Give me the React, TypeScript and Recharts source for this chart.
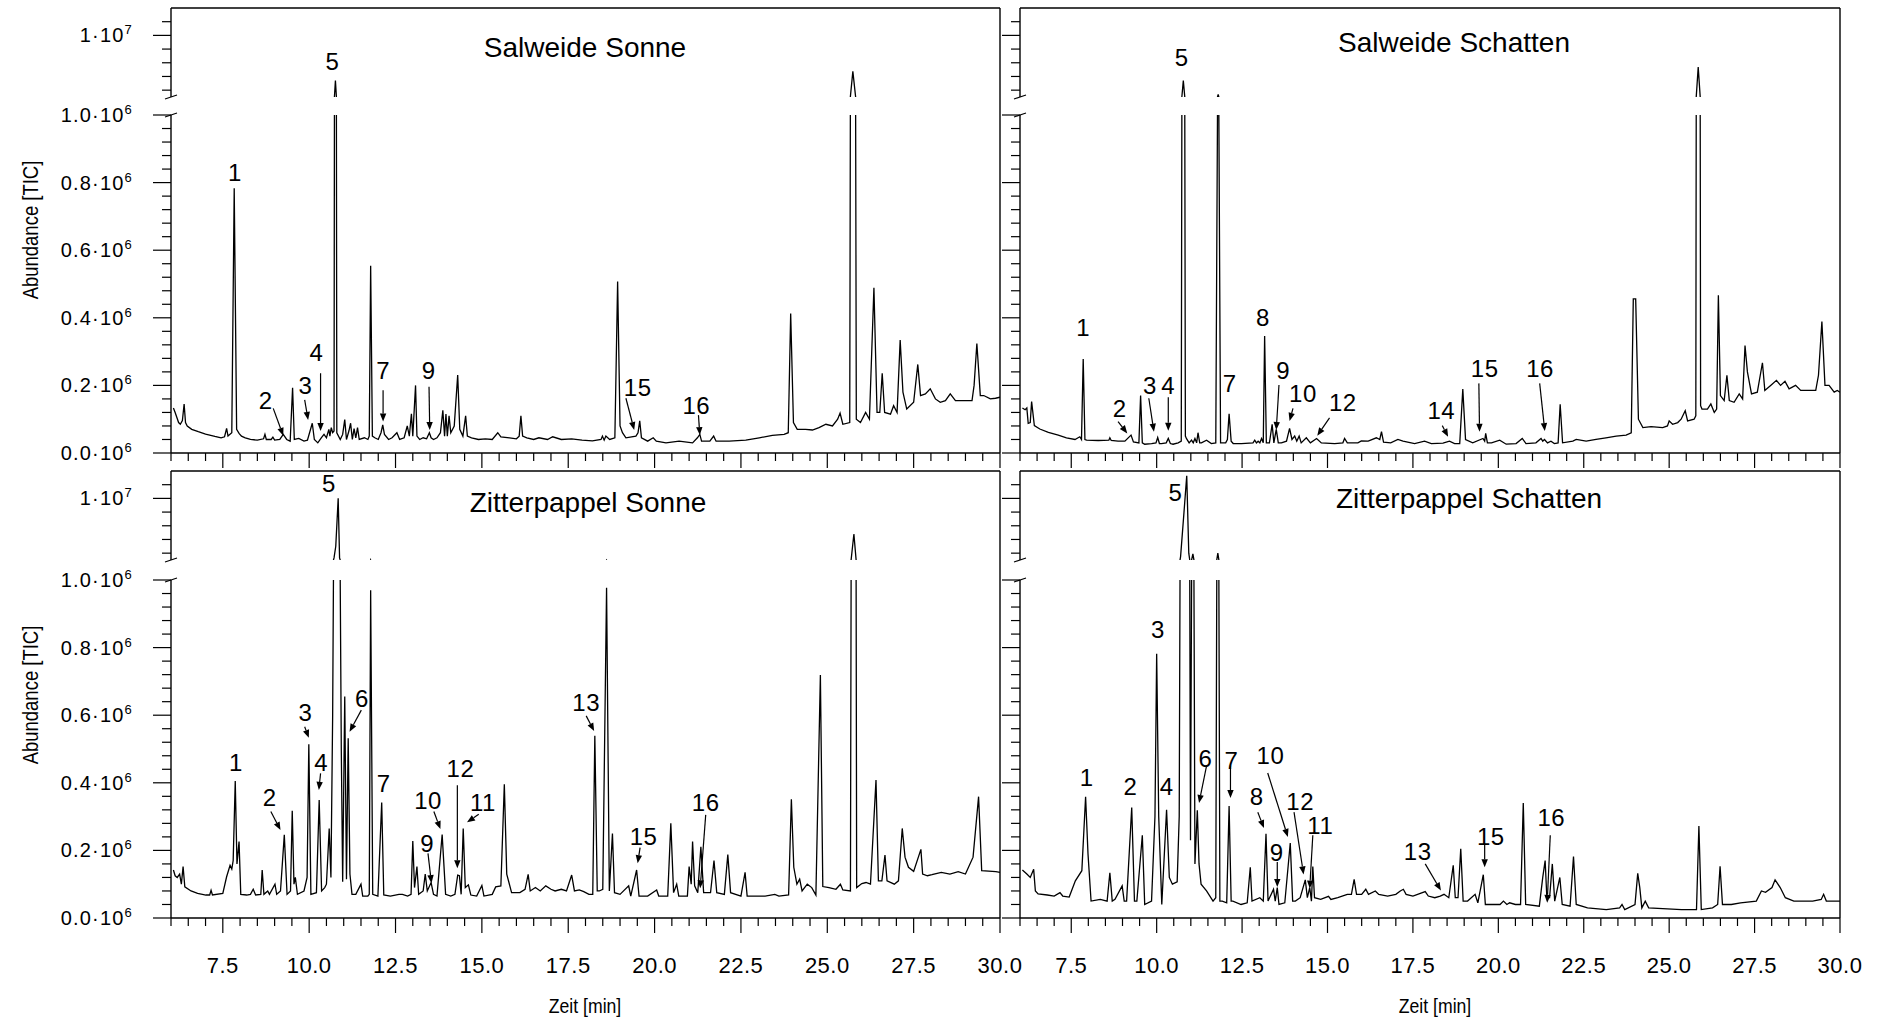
import React from 'react';
import { LineChart, Line, XAxis, YAxis, ReferenceLine, ReferenceDot } from 'recharts';

type Pt = [number, number];
type Note = { n: string; t: number; v: number; arrow?: [number, number, number, number] };

// abundance in units of 10^6, time in min
const salweideSonne: Pt[] = [
  [6.07, 0.133], [6.12, 0.12], [6.17, 0.105], [6.22, 0.09], [6.27, 0.085], [6.33, 0.096], [6.38, 0.145], [6.42, 0.09],
  [6.47, 0.08], [6.6, 0.07], [6.79, 0.063], [7.0, 0.056], [7.27, 0.049], [7.45, 0.045], [7.55, 0.048], [7.61, 0.073],
  [7.65, 0.05], [7.76, 0.06], [7.83, 0.783], [7.9, 0.07], [7.97, 0.058], [8.04, 0.05], [8.15, 0.045], [8.3, 0.04],
  [8.5, 0.038], [8.68, 0.042], [8.72, 0.055], [8.76, 0.04], [8.9, 0.04], [8.95, 0.047], [9.0, 0.038], [9.15, 0.04],
  [9.25, 0.055], [9.35, 0.04], [9.45, 0.035], [9.52, 0.193], [9.57, 0.04], [9.7, 0.043], [9.85, 0.035], [9.95, 0.038],
  [10.09, 0.088], [10.15, 0.04], [10.25, 0.03], [10.35, 0.045], [10.43, 0.055], [10.5, 0.045], [10.57, 0.07], [10.6, 0.05],
  [10.64, 0.075], [10.68, 0.06], [10.72, 0.065], [10.76, 3.4], [10.8, 0.06], [10.9, 0.04], [10.97, 0.055], [11.03, 0.099],
  [11.08, 0.04], [11.15, 0.065], [11.2, 0.088], [11.25, 0.04], [11.3, 0.072], [11.35, 0.045], [11.4, 0.075], [11.45, 0.04],
  [11.6, 0.045], [11.7, 0.04], [11.74, 0.05], [11.78, 0.554], [11.83, 0.05], [11.9, 0.045], [12.0, 0.04], [12.08, 0.06],
  [12.13, 0.083], [12.18, 0.055], [12.3, 0.04], [12.4, 0.045], [12.54, 0.06], [12.62, 0.04], [12.75, 0.045], [12.84, 0.08],
  [12.9, 0.05], [12.96, 0.116], [13.0, 0.05], [13.08, 0.2], [13.12, 0.05], [13.2, 0.04], [13.3, 0.045], [13.4, 0.042],
  [13.48, 0.06], [13.53, 0.045], [13.6, 0.04], [13.7, 0.045], [13.8, 0.06], [13.87, 0.126], [13.92, 0.05], [13.96, 0.115],
  [14.0, 0.05], [14.05, 0.11], [14.1, 0.06], [14.2, 0.08], [14.3, 0.231], [14.36, 0.07], [14.45, 0.05], [14.53, 0.11],
  [14.58, 0.05], [14.7, 0.045], [14.9, 0.04], [15.1, 0.042], [15.3, 0.04], [15.46, 0.06], [15.55, 0.048], [15.8, 0.045],
  [16.0, 0.042], [16.08, 0.05], [16.13, 0.11], [16.18, 0.05], [16.3, 0.045], [16.5, 0.04], [16.65, 0.045], [16.9, 0.04],
  [17.05, 0.048], [17.3, 0.04], [17.6, 0.042], [17.9, 0.038], [18.2, 0.036], [18.45, 0.04], [18.49, 0.05], [18.54, 0.038],
  [18.59, 0.05], [18.7, 0.04], [18.85, 0.045], [18.93, 0.507], [19.0, 0.08], [19.07, 0.06], [19.17, 0.045], [19.46, 0.05],
  [19.52, 0.06], [19.57, 0.095], [19.62, 0.045], [19.8, 0.035], [19.96, 0.045], [20.05, 0.035], [20.33, 0.03], [20.71, 0.035],
  [21.1, 0.03], [21.24, 0.045], [21.31, 0.055], [21.36, 0.035], [21.6, 0.035], [21.71, 0.05], [21.78, 0.035], [22.16, 0.035],
  [22.64, 0.038], [23.03, 0.045], [23.41, 0.052], [23.75, 0.055], [23.87, 0.06], [23.94, 0.413], [24.02, 0.09], [24.13, 0.07],
  [24.37, 0.07], [24.57, 0.068], [24.76, 0.075], [24.96, 0.085], [25.15, 0.08], [25.3, 0.1], [25.37, 0.118], [25.45, 0.085],
  [25.65, 0.09], [25.74, 4.74], [25.84, 0.1], [25.96, 0.09], [26.11, 0.12], [26.22, 0.1], [26.35, 0.489], [26.44, 0.12],
  [26.52, 0.12], [26.59, 0.236], [26.66, 0.12], [26.83, 0.115], [26.92, 0.14], [27.02, 0.12], [27.11, 0.334], [27.19, 0.18],
  [27.3, 0.13], [27.5, 0.15], [27.62, 0.262], [27.7, 0.17], [27.84, 0.175], [27.98, 0.19], [28.13, 0.16], [28.27, 0.15],
  [28.42, 0.155], [28.56, 0.175], [28.71, 0.155], [29.0, 0.155], [29.19, 0.155], [29.25, 0.2], [29.33, 0.324], [29.43, 0.17],
  [29.53, 0.17], [29.72, 0.16], [29.87, 0.162], [30.0, 0.165],
];

const salweideSchatten: Pt[] = [
  [6.07, 0.133], [6.15, 0.128], [6.2, 0.133], [6.24, 0.088], [6.3, 0.09], [6.34, 0.152], [6.42, 0.081], [6.58, 0.071],
  [6.83, 0.061], [7.12, 0.053], [7.36, 0.045], [7.61, 0.04], [7.75, 0.048], [7.8, 0.04], [7.85, 0.278], [7.9, 0.04],
  [7.95, 0.038], [8.29, 0.037], [8.6, 0.038], [8.63, 0.045], [8.67, 0.037], [8.87, 0.035], [9.07, 0.035], [9.25, 0.053],
  [9.32, 0.033], [9.48, 0.03], [9.53, 0.17], [9.58, 0.03], [9.65, 0.026], [9.85, 0.028], [9.98, 0.03], [10.03, 0.046],
  [10.08, 0.028], [10.14, 0.028], [10.28, 0.03], [10.34, 0.043], [10.4, 0.028], [10.48, 0.026], [10.63, 0.03], [10.72, 0.035],
  [10.78, 3.4], [10.84, 0.05], [10.87, 0.043], [10.95, 0.03], [11.02, 0.038], [11.07, 0.03], [11.12, 0.043], [11.17, 0.03],
  [11.21, 0.06], [11.26, 0.03], [11.31, 0.03], [11.46, 0.038], [11.6, 0.028], [11.73, 0.03], [11.8, 1.39], [11.87, 0.03],
  [12.02, 0.03], [12.07, 0.04], [12.12, 0.116], [12.18, 0.035], [12.24, 0.028], [12.48, 0.028], [12.82, 0.03], [12.87, 0.038],
  [12.92, 0.03], [12.97, 0.035], [13.02, 0.03], [13.07, 0.043], [13.12, 0.03], [13.16, 0.346], [13.21, 0.03], [13.3, 0.03],
  [13.38, 0.085], [13.43, 0.03], [13.5, 0.07], [13.56, 0.03], [13.65, 0.03], [13.8, 0.035], [13.89, 0.073], [13.96, 0.04],
  [14.04, 0.05], [14.1, 0.035], [14.17, 0.05], [14.23, 0.03], [14.38, 0.045], [14.5, 0.03], [14.68, 0.043], [14.82, 0.03],
  [15.21, 0.028], [15.45, 0.03], [15.5, 0.043], [15.58, 0.03], [15.89, 0.03], [15.99, 0.036], [16.19, 0.035], [16.43, 0.045],
  [16.53, 0.04], [16.58, 0.063], [16.64, 0.032], [16.85, 0.03], [17.06, 0.04], [17.21, 0.035], [17.55, 0.028], [17.84, 0.035],
  [18.04, 0.028], [18.38, 0.029], [18.57, 0.035], [18.72, 0.028], [18.87, 0.028], [18.96, 0.189], [19.04, 0.04], [19.25, 0.03],
  [19.55, 0.043], [19.6, 0.035], [19.63, 0.058], [19.68, 0.03], [19.8, 0.03], [20.04, 0.038], [20.23, 0.026], [20.52, 0.028],
  [20.7, 0.043], [20.81, 0.028], [21.1, 0.03], [21.25, 0.043], [21.3, 0.035], [21.35, 0.04], [21.44, 0.03], [21.54, 0.035],
  [21.64, 0.028], [21.75, 0.03], [21.81, 0.144], [21.88, 0.03], [22.18, 0.035], [22.28, 0.04], [22.57, 0.035], [22.86, 0.04],
  [23.15, 0.045], [23.45, 0.05], [23.74, 0.053], [23.89, 0.06], [23.95, 0.456], [24.02, 0.456], [24.1, 0.1], [24.23, 0.075],
  [24.47, 0.078], [24.81, 0.075], [24.95, 0.08], [25.0, 0.095], [25.1, 0.085], [25.25, 0.09], [25.35, 0.1], [25.47, 0.125],
  [25.54, 0.095], [25.73, 0.1], [25.78, 0.11], [25.85, 5.37], [25.92, 0.14], [25.96, 0.13], [26.12, 0.13], [26.22, 0.145],
  [26.32, 0.12], [26.39, 0.13], [26.44, 0.467], [26.5, 0.17], [26.61, 0.155], [26.69, 0.23], [26.76, 0.155], [26.9, 0.15],
  [27.05, 0.175], [27.15, 0.16], [27.22, 0.318], [27.29, 0.24], [27.41, 0.175], [27.58, 0.18], [27.73, 0.267], [27.8, 0.185],
  [27.97, 0.2], [28.14, 0.215], [28.26, 0.2], [28.39, 0.212], [28.51, 0.19], [28.7, 0.2], [28.85, 0.185], [29.09, 0.185],
  [29.29, 0.185], [29.37, 0.23], [29.47, 0.389], [29.56, 0.2], [29.68, 0.2], [29.83, 0.18], [29.92, 0.185], [30.0, 0.18],
];

const zitterpappelSonne: Pt[] = [
  [6.07, 0.142], [6.12, 0.125], [6.18, 0.12], [6.25, 0.13], [6.3, 0.1], [6.35, 0.152], [6.4, 0.092], [6.58, 0.08],
  [6.77, 0.073], [7.01, 0.068], [7.12, 0.068], [7.16, 0.082], [7.2, 0.068], [7.5, 0.073], [7.61, 0.122], [7.71, 0.156],
  [7.76, 0.145], [7.8, 0.17], [7.86, 0.405], [7.91, 0.16], [7.97, 0.226], [8.02, 0.07], [8.19, 0.068], [8.3, 0.07],
  [8.38, 0.085], [8.45, 0.068], [8.6, 0.07], [8.64, 0.142], [8.69, 0.07], [8.8, 0.08], [8.85, 0.07], [9.01, 0.1],
  [9.06, 0.07], [9.17, 0.08], [9.28, 0.246], [9.36, 0.07], [9.46, 0.08], [9.51, 0.317], [9.56, 0.1], [9.6, 0.12],
  [9.66, 0.07], [9.85, 0.08], [9.94, 0.12], [9.99, 0.514], [10.05, 0.07], [10.21, 0.075], [10.29, 0.349], [10.36, 0.08],
  [10.45, 0.09], [10.5, 0.1], [10.58, 0.265], [10.63, 0.12], [10.68, 0.6], [10.72, 1.3], [10.77, 3.0], [10.84, 10.0],
  [10.88, 1.3], [10.93, 0.5], [10.97, 0.107], [11.03, 0.655], [11.08, 0.115], [11.13, 0.532], [11.18, 0.13], [11.24, 0.07],
  [11.35, 0.07], [11.5, 0.1], [11.55, 0.065], [11.7, 0.065], [11.74, 0.07], [11.78, 0.97], [11.84, 0.07], [11.99, 0.065],
  [12.1, 0.342], [12.16, 0.068], [12.35, 0.065], [12.6, 0.07], [12.7, 0.07], [12.85, 0.065], [12.95, 0.07], [13.0, 0.228],
  [13.05, 0.09], [13.12, 0.152], [13.17, 0.07], [13.3, 0.08], [13.36, 0.13], [13.42, 0.08], [13.53, 0.105], [13.6, 0.07],
  [13.7, 0.065], [13.85, 0.247], [13.95, 0.07], [14.1, 0.065], [14.22, 0.07], [14.3, 0.127], [14.35, 0.125], [14.4, 0.07],
  [14.46, 0.265], [14.52, 0.09], [14.61, 0.098], [14.68, 0.068], [14.85, 0.065], [15.0, 0.096], [15.06, 0.065], [15.3, 0.07],
  [15.4, 0.092], [15.55, 0.095], [15.65, 0.396], [15.72, 0.13], [15.86, 0.075], [16.1, 0.075], [16.25, 0.085], [16.34, 0.129],
  [16.4, 0.08], [16.55, 0.09], [16.69, 0.08], [16.85, 0.095], [17.0, 0.085], [17.12, 0.08], [17.3, 0.085], [17.45, 0.08],
  [17.6, 0.127], [17.68, 0.08], [17.82, 0.083], [17.95, 0.078], [18.1, 0.07], [18.21, 0.07], [18.27, 0.539], [18.34, 0.08],
  [18.4, 0.08], [18.5, 0.085], [18.61, 0.977], [18.69, 0.08], [18.78, 0.25], [18.84, 0.075], [19.0, 0.07], [19.25, 0.095],
  [19.31, 0.065], [19.48, 0.142], [19.55, 0.065], [19.8, 0.065], [20.06, 0.083], [20.12, 0.065], [20.38, 0.065], [20.47, 0.28],
  [20.55, 0.075], [20.64, 0.1], [20.7, 0.065], [20.95, 0.065], [21.0, 0.152], [21.06, 0.1], [21.1, 0.226], [21.16, 0.095],
  [21.25, 0.075], [21.34, 0.211], [21.42, 0.075], [21.62, 0.075], [21.72, 0.17], [21.8, 0.075], [22.02, 0.07], [22.12, 0.188],
  [22.2, 0.075], [22.5, 0.065], [22.62, 0.135], [22.68, 0.065], [23.2, 0.065], [23.48, 0.07], [23.6, 0.065], [23.88, 0.068],
  [23.96, 0.351], [24.03, 0.15], [24.12, 0.1], [24.2, 0.115], [24.27, 0.08], [24.42, 0.1], [24.55, 0.09], [24.67, 0.068],
  [24.8, 0.719], [24.87, 0.093], [25.05, 0.09], [25.25, 0.085], [25.38, 0.1], [25.45, 0.083], [25.67, 0.08], [25.77, 4.8],
  [25.85, 0.09], [26.0, 0.102], [26.12, 0.105], [26.25, 0.1], [26.41, 0.408], [26.48, 0.11], [26.58, 0.11], [26.67, 0.186],
  [26.73, 0.11], [26.94, 0.1], [27.06, 0.11], [27.17, 0.265], [27.25, 0.18], [27.35, 0.15], [27.5, 0.138], [27.71, 0.203],
  [27.76, 0.13], [27.9, 0.125], [28.03, 0.128], [28.3, 0.135], [28.55, 0.13], [28.79, 0.137], [29.0, 0.13], [29.22, 0.18],
  [29.38, 0.359], [29.47, 0.14], [29.88, 0.137], [30.0, 0.135],
];

const zitterpappelSchatten: Pt[] = [
  [6.07, 0.142], [6.2, 0.13], [6.3, 0.12], [6.4, 0.144], [6.45, 0.08], [6.53, 0.071], [6.8, 0.068], [7.0, 0.065],
  [7.17, 0.075], [7.25, 0.065], [7.44, 0.062], [7.62, 0.11], [7.81, 0.14], [7.92, 0.359], [7.99, 0.19], [8.08, 0.05],
  [8.35, 0.055], [8.55, 0.05], [8.63, 0.134], [8.7, 0.05], [8.78, 0.055], [8.99, 0.095], [9.05, 0.05], [9.12, 0.05],
  [9.27, 0.327], [9.35, 0.05], [9.42, 0.05], [9.58, 0.245], [9.65, 0.04], [9.85, 0.05], [9.95, 0.3], [10.0, 0.782],
  [10.06, 0.3], [10.15, 0.04], [10.29, 0.32], [10.37, 0.12], [10.46, 0.1], [10.6, 0.107], [10.66, 0.3], [10.7, 1.5],
  [10.8, 8.0], [10.88, 13.3], [10.94, 2.0], [10.99, 0.23], [11.06, 1.9], [11.12, 0.16], [11.19, 0.319], [11.24, 0.16],
  [11.3, 0.1], [11.46, 0.08], [11.65, 0.05], [11.73, 0.06], [11.79, 2.0], [11.85, 0.05], [11.92, 0.05], [12.05, 0.045],
  [12.12, 0.331], [12.18, 0.05], [12.23, 0.05], [12.47, 0.04], [12.65, 0.045], [12.74, 0.15], [12.79, 0.05], [13.02, 0.06],
  [13.12, 0.05], [13.2, 0.249], [13.26, 0.05], [13.42, 0.085], [13.47, 0.05], [13.53, 0.09], [13.58, 0.04], [13.75, 0.045],
  [13.91, 0.222], [13.98, 0.05], [14.06, 0.05], [14.2, 0.06], [14.35, 0.113], [14.41, 0.06], [14.48, 0.09], [14.53, 0.05],
  [14.57, 0.152], [14.62, 0.06], [14.8, 0.055], [15.03, 0.064], [15.1, 0.055], [15.3, 0.06], [15.58, 0.07], [15.7, 0.07],
  [15.78, 0.114], [15.85, 0.07], [16.0, 0.07], [16.12, 0.085], [16.2, 0.07], [16.4, 0.08], [16.5, 0.07], [16.76, 0.065],
  [17.0, 0.07], [17.13, 0.08], [17.22, 0.085], [17.3, 0.07], [17.5, 0.065], [17.86, 0.078], [17.95, 0.065], [18.14, 0.06],
  [18.3, 0.065], [18.41, 0.07], [18.55, 0.06], [18.68, 0.156], [18.74, 0.06], [18.82, 0.06], [18.9, 0.205], [18.97, 0.05],
  [19.1, 0.05], [19.32, 0.07], [19.4, 0.045], [19.56, 0.128], [19.62, 0.04], [20.05, 0.04], [20.15, 0.05], [20.25, 0.04],
  [20.33, 0.045], [20.5, 0.04], [20.65, 0.04], [20.73, 0.34], [20.8, 0.04], [21.2, 0.035], [21.3, 0.12], [21.37, 0.17],
  [21.42, 0.06], [21.5, 0.06], [21.58, 0.16], [21.65, 0.05], [21.8, 0.12], [21.87, 0.04], [22.1, 0.035], [22.2, 0.182],
  [22.28, 0.04], [22.61, 0.03], [23.16, 0.025], [23.55, 0.03], [23.62, 0.04], [23.7, 0.025], [24.0, 0.04], [24.08, 0.132],
  [24.14, 0.09], [24.2, 0.03], [24.3, 0.05], [24.4, 0.03], [25.36, 0.025], [25.8, 0.025], [25.87, 0.272], [25.94, 0.025],
  [26.27, 0.03], [26.42, 0.04], [26.49, 0.153], [26.56, 0.04], [26.82, 0.04], [27.09, 0.045], [27.55, 0.05], [27.7, 0.08],
  [27.82, 0.076], [28.01, 0.09], [28.1, 0.113], [28.25, 0.09], [28.4, 0.06], [28.65, 0.05], [29.2, 0.05], [29.45, 0.055],
  [29.52, 0.07], [29.6, 0.05], [30.0, 0.05],
];

// peak numbers: label centre (t, v) and optional arrow [t1, v1, t2, v2]
const salweideSonneNotes: Note[] = [
  { n: '1', t: 7.85, v: 0.832 },
  { n: '2', t: 8.74, v: 0.157, arrow: [8.96, 0.132, 9.25, 0.051] },
  { n: '3', t: 9.89, v: 0.201, arrow: [9.87, 0.157, 9.97, 0.098] },
  { n: '4', t: 10.21, v: 0.3, arrow: [10.33, 0.236, 10.33, 0.065] },
  { n: '5', t: 10.67, v: 6.2 },
  { n: '7', t: 12.14, v: 0.246, arrow: [12.14, 0.186, 12.14, 0.093] },
  { n: '9', t: 13.46, v: 0.246, arrow: [13.47, 0.196, 13.49, 0.068] },
  { n: '15', t: 19.51, v: 0.196, arrow: [19.17, 0.162, 19.41, 0.068] },
  { n: '16', t: 21.21, v: 0.142, arrow: [21.27, 0.112, 21.31, 0.053] },
];

const salweideSchattenNotes: Note[] = [
  { n: '1', t: 7.85, v: 0.374 },
  { n: '2', t: 8.92, v: 0.133, arrow: [8.87, 0.093, 9.14, 0.058] },
  { n: '3', t: 9.8, v: 0.2, arrow: [9.77, 0.162, 9.92, 0.063] },
  { n: '4', t: 10.34, v: 0.2, arrow: [10.34, 0.165, 10.34, 0.066] },
  { n: '5', t: 10.73, v: 6.83 },
  { n: '7', t: 12.14, v: 0.207 },
  { n: '8', t: 13.11, v: 0.403 },
  { n: '9', t: 13.7, v: 0.246, arrow: [13.58, 0.201, 13.5, 0.068] },
  { n: '10', t: 14.28, v: 0.177, arrow: [13.99, 0.132, 13.89, 0.095] },
  { n: '12', t: 15.45, v: 0.152, arrow: [15.06, 0.104, 14.7, 0.051] },
  { n: '14', t: 18.33, v: 0.127, arrow: [18.36, 0.081, 18.53, 0.048] },
  { n: '15', t: 19.6, v: 0.252, arrow: [19.43, 0.206, 19.45, 0.063] },
  { n: '16', t: 21.22, v: 0.252, arrow: [21.21, 0.206, 21.36, 0.065] },
];

const zitterpappelSonneNotes: Note[] = [
  { n: '1', t: 7.88, v: 0.462 },
  { n: '2', t: 8.86, v: 0.359, arrow: [8.89, 0.315, 9.17, 0.26] },
  { n: '3', t: 9.89, v: 0.61, arrow: [9.87, 0.566, 9.99, 0.533] },
  { n: '4', t: 10.35, v: 0.462, arrow: [10.33, 0.428, 10.28, 0.379] },
  { n: '5', t: 10.57, v: 12.2 },
  { n: '6', t: 11.53, v: 0.65, arrow: [11.51, 0.615, 11.17, 0.551] },
  { n: '7', t: 12.16, v: 0.398 },
  { n: '9', t: 13.42, v: 0.221, arrow: [13.44, 0.191, 13.54, 0.103] },
  { n: '10', t: 13.44, v: 0.349, arrow: [13.61, 0.315, 13.8, 0.263] },
  { n: '11', t: 15.03, v: 0.342, arrow: [14.91, 0.307, 14.57, 0.283] },
  { n: '12', t: 14.38, v: 0.445, arrow: [14.29, 0.393, 14.29, 0.147] },
  { n: '13', t: 18.02, v: 0.639, arrow: [18.02, 0.598, 18.25, 0.553] },
  { n: '15', t: 19.68, v: 0.243, arrow: [19.58, 0.208, 19.51, 0.162] },
  { n: '16', t: 21.48, v: 0.342, arrow: [21.48, 0.305, 21.32, 0.088] },
];

const zitterpappelSchattenNotes: Note[] = [
  { n: '1', t: 7.95, v: 0.416 },
  { n: '2', t: 9.23, v: 0.392 },
  { n: '3', t: 10.04, v: 0.856 },
  { n: '4', t: 10.29, v: 0.392 },
  { n: '5', t: 10.55, v: 10.9 },
  { n: '6', t: 11.43, v: 0.472, arrow: [11.46, 0.45, 11.24, 0.34] },
  { n: '7', t: 12.19, v: 0.466, arrow: [12.16, 0.45, 12.16, 0.355] },
  { n: '8', t: 12.93, v: 0.361, arrow: [12.96, 0.313, 13.14, 0.266] },
  { n: '9', t: 13.51, v: 0.195, arrow: [13.53, 0.166, 13.53, 0.092] },
  { n: '10', t: 13.33, v: 0.482, arrow: [13.25, 0.429, 13.84, 0.24] },
  { n: '11', t: 14.79, v: 0.276, arrow: [14.57, 0.245, 14.48, 0.087] },
  { n: '12', t: 14.2, v: 0.345, arrow: [14.02, 0.313, 14.3, 0.129] },
  { n: '13', t: 17.64, v: 0.198, arrow: [17.86, 0.16, 18.32, 0.081] },
  { n: '15', t: 19.78, v: 0.243, arrow: [19.6, 0.218, 19.6, 0.15] },
  { n: '16', t: 21.55, v: 0.3, arrow: [21.52, 0.245, 21.43, 0.045] },
];

const xTicks = [
  6, 6.5, 7, 7.5, 8, 8.5, 9, 9.5, 10, 10.5, 11, 11.5, 12, 12.5, 13, 13.5, 14, 14.5, 15, 15.5, 16, 16.5, 17, 17.5,
  18, 18.5, 19, 19.5, 20, 20.5, 21, 21.5, 22, 22.5, 23, 23.5, 24, 24.5, 25, 25.5, 26, 26.5, 27, 27.5, 28, 28.5, 29, 29.5, 30,
];
const loTicks = [
  0, 0.04, 0.08, 0.12, 0.16, 0.2, 0.24, 0.28, 0.32, 0.36, 0.4, 0.44, 0.48, 0.52, 0.56, 0.6, 0.64, 0.68, 0.72, 0.76,
  0.8, 0.84, 0.88, 0.92, 0.96, 1.0,
];
const hiTicks = [2, 4, 6, 8, 10, 12];

const FONT = "'Liberation Sans', Arial, Helvetica, sans-serif";
const AX = { stroke: '#000', strokeWidth: 1.4 };

// page layout (px)
const COLS = [{ x0: 171, x1: 1000 }, { x0: 1020, x1: 1840 }];
const ROWS = [
  { hiTop: 8, hiBot: 97, loTop: 115, loBot: 453 },
  { hiTop: 471, hiBot: 560, loTop: 580, loBot: 918 },
];
const RIGHT_PAD = 38;

function XTick(p: any) {
  const { x, y, payload, showLabel } = p;
  const v = payload.value as number;
  const major = v > 6 && Math.abs(v / 2.5 - Math.round(v / 2.5)) < 1e-6;
  return (
    <g>
      <line x1={x} y1={y} x2={x} y2={y + (major ? 15 : 8)} stroke="#000" strokeWidth={1.2} />
      {showLabel && major && (
        <text x={x} y={y + 55} textAnchor="middle" fontSize={22} letterSpacing={0.5} fontFamily={FONT} fill="#000">
          {v.toFixed(1)}
        </text>
      )}
    </g>
  );
}

function YTick(p: any) {
  const { x, y, payload, showLabel, hi } = p;
  const v = payload.value as number;
  const major = hi ? v === 10 : Math.abs(v * 5 - Math.round(v * 5)) < 1e-6;
  const len = major ? 18 : 9;
  return (
    <g>
      <line x1={x - len} y1={y} x2={x} y2={y} stroke="#000" strokeWidth={1.2} />
      {showLabel && major && (
        <text x={x - 38} y={y + 7} textAnchor="end" fontSize={20} letterSpacing={1.2} fontFamily={FONT} fill="#000">
          {hi ? '1·10' : `${v.toFixed(1)}·10`}
          <tspan dy={-8} fontSize={13}>{hi ? '7' : '6'}</tspan>
        </text>
      )}
    </g>
  );
}

function ArrowShape(p: any) {
  const { x1, y1, x2, y2 } = p;
  const dx = x2 - x1;
  const dy = y2 - y1;
  const len = Math.hypot(dx, dy) || 1;
  const ux = dx / len;
  const uy = dy / len;
  const h = 8;
  const w = 3.2;
  const bx = x2 - ux * h;
  const by = y2 - uy * h;
  const pts = `${x2},${y2} ${bx - uy * w},${by + ux * w} ${bx + uy * w},${by - ux * w}`;
  return (
    <g>
      <line x1={x1} y1={y1} x2={bx} y2={by} stroke="#000" strokeWidth={1.2} />
      <polygon points={pts} fill="#000" />
    </g>
  );
}

function renderNotes(notes: Note[], key: string) {
  const out: React.ReactNode[] = [];
  notes.forEach((nt, i) => {
    if (nt.arrow) {
      const [a, b, c, d] = nt.arrow;
      out.push(
        <ReferenceLine
          key={`${key}-a${i}`}
          segment={[{ x: a, y: b }, { x: c, y: d }]}
          ifOverflow="visible"
          shape={ArrowShape}
        />
      );
    }
    out.push(
      <ReferenceDot
        key={`${key}-l${i}`}
        x={nt.t}
        y={nt.v}
        r={1}
        ifOverflow="visible"
        shape={(s: any) => (
          <text x={s.cx} y={s.cy + 9} textAnchor="middle" fontSize={24} letterSpacing={0.5} fontFamily={FONT} fill="#000">
            {nt.n}
          </text>
        )}
      />
    );
  });
  return out;
}

function Panel({ col, row, points, notes, yLabels = false, xLabels = false }: {
  col: number; row: number; points: Pt[]; notes: Note[]; yLabels?: boolean; xLabels?: boolean;
}) {
  const c = COLS[col];
  const r = ROWS[row];
  const data = points.map(([t, v]) => ({ t, v }));
  const W = c.x1 + RIGHT_PAD;
  const AXW = 60;
  const hiPad = 8;
  const loPad = r.loTop - r.hiBot + 4;
  const XH = 70;
  const hiH = r.hiBot - r.hiTop + hiPad * 2;
  const loH = r.loBot - r.loTop + loPad + XH;
  const hiNotes = notes.filter((n) => n.v > 1);
  const loNotes = notes.filter((n) => n.v <= 1);
  // break marks: ~6px wide, ~2px tall on each side
  const bt = 6 / ((c.x1 - c.x0) / 24);
  const bHi = (2 * 13) / (r.hiBot - r.hiTop);
  const bLo = 2 / (r.loBot - r.loTop);
  const ext = (r.loTop - r.hiBot) / (r.loBot - r.loTop);
  return (
    <>
      <div style={{ position: 'absolute', left: 0, top: r.hiTop - hiPad }}>
        <LineChart width={W} height={hiH} data={data} margin={{ top: hiPad - 1, right: RIGHT_PAD - 1, bottom: hiPad, left: c.x0 - AXW }}>
          <XAxis dataKey="t" type="number" orientation="top" domain={[6, 30]} allowDataOverflow height={1} tick={false} tickLine={false} axisLine={AX} />
          <YAxis type="number" domain={[1, 14]} allowDataOverflow ticks={hiTicks} interval={0} width={AXW} tickSize={0} tickMargin={0}
            tick={(p: any) => <YTick {...p} hi showLabel={yLabels} />} axisLine={AX} />
          <YAxis yAxisId="r" orientation="right" type="number" domain={[1, 14]} width={1} tick={false} tickLine={false} axisLine={AX} />
          <ReferenceLine segment={[{ x: 6 - bt, y: 1 - bHi }, { x: 6 + bt, y: 1 + bHi }]} ifOverflow="visible" stroke="#000" strokeWidth={1.2} />
          <Line dataKey="v" type="linear" stroke="#000" strokeWidth={1.3} dot={false} isAnimationActive={false} />
          {renderNotes(hiNotes, 'h')}
        </LineChart>
      </div>
      <div style={{ position: 'absolute', left: 0, top: r.loTop - loPad }}>
        <LineChart width={W} height={loH} data={data} margin={{ top: loPad, right: RIGHT_PAD - 1, bottom: 0, left: c.x0 - AXW }}>
          <XAxis dataKey="t" type="number" domain={[6, 30]} allowDataOverflow ticks={xTicks} interval={0} height={XH} tickSize={0} tickMargin={0}
            tick={(p: any) => <XTick {...p} showLabel={xLabels} />} axisLine={AX} />
          <YAxis type="number" domain={[0, 1]} allowDataOverflow ticks={loTicks} interval={0} width={AXW} tickSize={0} tickMargin={0}
            tick={(p: any) => <YTick {...p} showLabel={yLabels} />} axisLine={AX} />
          <YAxis yAxisId="r" orientation="right" type="number" domain={[0, 1]} width={1} tick={false} tickLine={false} axisLine={AX} />
          <ReferenceLine segment={[{ x: 30, y: 1 }, { x: 30, y: 1 + ext }]} ifOverflow="visible" stroke="#000" strokeWidth={1.4} />
          <ReferenceLine segment={[{ x: 6 - bt, y: 1 - bLo }, { x: 6 + bt, y: 1 + bLo }]} ifOverflow="visible" stroke="#000" strokeWidth={1.2} />
          <Line dataKey="v" type="linear" stroke="#000" strokeWidth={1.3} dot={false} isAnimationActive={false} />
          {renderNotes(loNotes, 'l')}
        </LineChart>
      </div>
    </>
  );
}

const titles = [
  { text: 'Salweide Sonne', x: 585, y: 48 },
  { text: 'Salweide Schatten', x: 1454, y: 43 },
  { text: 'Zitterpappel Sonne', x: 588, y: 503 },
  { text: 'Zitterpappel Schatten', x: 1469, y: 499 },
];

export default function App() {
  return (
    <div style={{ position: 'absolute', left: 0, top: 0, width: 1878, height: 1019, background: '#fff', overflow: 'hidden', fontFamily: FONT, color: '#000' }}>
      <Panel col={0} row={0} points={salweideSonne} notes={salweideSonneNotes} yLabels />
      <Panel col={1} row={0} points={salweideSchatten} notes={salweideSchattenNotes} />
      <Panel col={0} row={1} points={zitterpappelSonne} notes={zitterpappelSonneNotes} yLabels xLabels />
      <Panel col={1} row={1} points={zitterpappelSchatten} notes={zitterpappelSchattenNotes} xLabels />
      {titles.map((t) => (
        <div key={t.text} style={{ position: 'absolute', left: t.x, top: t.y, transform: 'translate(-50%, -50%)', fontSize: 28, whiteSpace: 'nowrap' }}>
          {t.text}
        </div>
      ))}
      {[230, 695].map((y) => (
        <div key={y} style={{ position: 'absolute', left: 31, top: y, transform: 'translate(-50%, -50%) rotate(-90deg) scaleX(0.84)', fontSize: 22, whiteSpace: 'nowrap' }}>
          Abundance [TIC]
        </div>
      ))}
      {[585, 1435].map((x) => (
        <div key={x} style={{ position: 'absolute', left: x, top: 1006, transform: 'translate(-50%, -50%) scaleX(0.84)', fontSize: 21, whiteSpace: 'nowrap' }}>
          Zeit [min]
        </div>
      ))}
    </div>
  );
}
